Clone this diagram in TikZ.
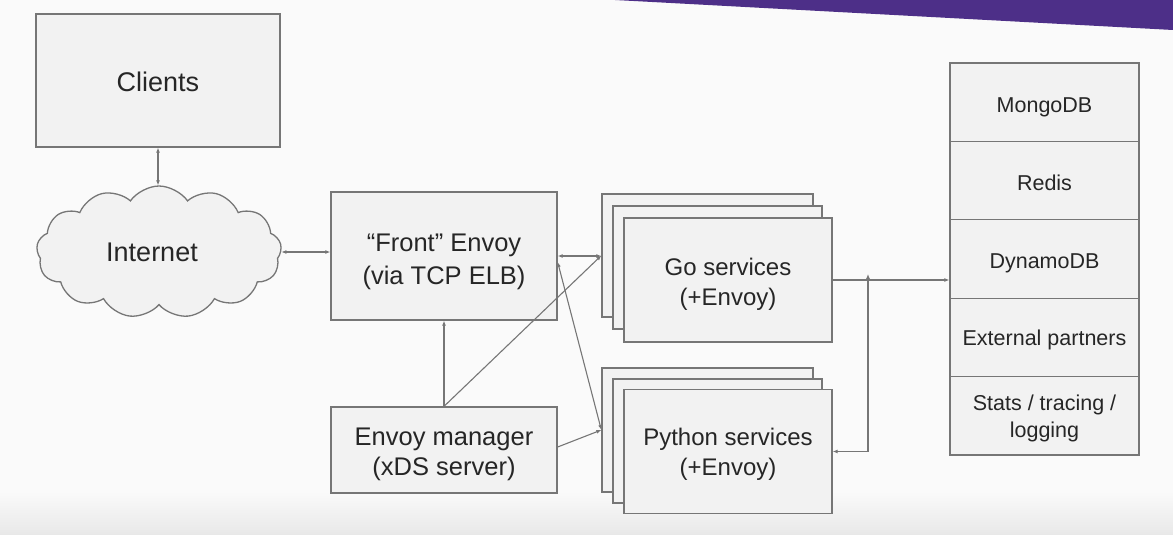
\documentclass[tikz,border=0pt]{standalone}
\usepackage{fontspec}
\setmainfont{Liberation Sans}
\usetikzlibrary{arrows.meta,shapes.symbols,calc}
\definecolor{ln}{HTML}{767676}
\definecolor{bx}{HTML}{F2F2F2}
\definecolor{tx}{HTML}{262626}
\definecolor{purp}{HTML}{4D2F88}
\newcommand{\dnbox}[2][4pt]{\raisebox{-#1}[\height][\depth]{\begin{tabular}{@{}c@{}}#2\end{tabular}}}
\begin{document}
\begin{tikzpicture}[x=1pt,y=-1pt,
  >={Latex[length=5pt,width=4pt]},
  box/.style={draw=ln, fill=bx, line width=1.3pt, text=tx, align=center, inner sep=0pt},
  conn/.style={draw=ln, line width=1.1pt},
  big/.style={font=\fontsize{27}{33}\selectfont},
  mid/.style={font=\fontsize{25.5}{33}\selectfont},
  mgrf/.style={font=\fontsize{25.5}{30}\selectfont},
  svc/.style={font=\fontsize{24}{30}\selectfont},
  small/.style={font=\fontsize{21.5}{27}\selectfont}]
\useasboundingbox (0,0) rectangle (1173,535);
\fill[white!98!black] (0,0) rectangle (1173,535);
\shade[top color=white!98!black, bottom color=black!9] (0,492) rectangle (1173,535);
\fill[purp] (615,0) -- (1173,30) -- (1173,0) -- cycle;

% left column
\node[box, big, minimum width=244pt, minimum height=133pt] (clients) at (158,80.5) {\dnbox[4pt]{Clients}};
\node[cloud, cloud puffs=13, cloud puff arc=110, aspect=1.9, draw=ln, fill=bx, line width=1.3pt,
      text=tx, big, inner sep=0pt, minimum width=245pt, minimum height=132pt] (inet) at (159,252) {\kern-14pt Internet};

% middle column
\node[box, mid, minimum width=226pt, minimum height=128pt] (front) at (444,256) {\dnbox[5pt]{“Front” Envoy\\(via TCP ELB)}};
\node[box, mgrf, minimum width=226pt, minimum height=86pt] (mgr) at (444,450) {\dnbox[4pt]{Envoy manager\\(xDS server)}};

% Go services stack
\node[box, minimum width=211pt, minimum height=123pt] (goA) at (707.5,255.5) {};
\node[box, minimum width=209pt, minimum height=123pt] (goB) at (717.5,267.5) {};
\node[box, svc, minimum width=208pt, minimum height=124pt] (goC) at (728,280) {\dnbox[4pt]{Go services\\(+Envoy)}};

% Python services stack
\node[box, minimum width=211pt, minimum height=124pt] (pyA) at (707.5,430) {};
\node[box, minimum width=209pt, minimum height=124pt] (pyB) at (717.5,441) {};
\node[box, svc, minimum width=208pt, minimum height=124pt] (pyC) at (728,451.5) {\dnbox[3pt]{Python services\\(+Envoy)}};

% right stack
\node[box, small, minimum width=189pt, minimum height=78.4pt] (mongo) at (1044.5,102.2) {\dnbox[5pt]{MongoDB}};
\node[box, small, minimum width=189pt, minimum height=78.4pt] (redis) at (1044.5,180.6) {\dnbox[4pt]{Redis}};
\node[box, small, minimum width=189pt, minimum height=78.4pt] (dyn) at (1044.5,259.0) {\dnbox[4pt]{DynamoDB}};
\node[box, small, minimum width=189pt, minimum height=78.4pt] (ext) at (1044.5,337.4) {\dnbox[3pt]{External partners}};
\node[box, small, minimum width=189pt, minimum height=78.4pt] (stats) at (1044.5,415.8) {\dnbox[3pt]{Stats / tracing /\\logging}};

% connectors
\draw[conn,<->] (clients.south) -- (clients.south |- inet.north);
\draw[conn,<->] (inet.east) -- (inet.east -| front.west);
\draw[conn,<->] (front.east) -- (front.east -| goA.west);
\draw[conn,<->] ([yshift=-6pt]front.east) -- (pyA.west);
\draw[conn,->] (mgr.north) -- (front.south);
\draw[conn,->] (mgr.north) -- (goA.west);
\draw[conn,->] ([yshift=3pt]mgr.east) -- (pyA.west);
\coordinate (jn) at (868,280);
\draw[conn,->] (goC.east) -- (goC.east -| dyn.west);
\draw[conn,<->] (pyC.east) -| ([yshift=6pt]jn);
\end{tikzpicture}
\end{document}
